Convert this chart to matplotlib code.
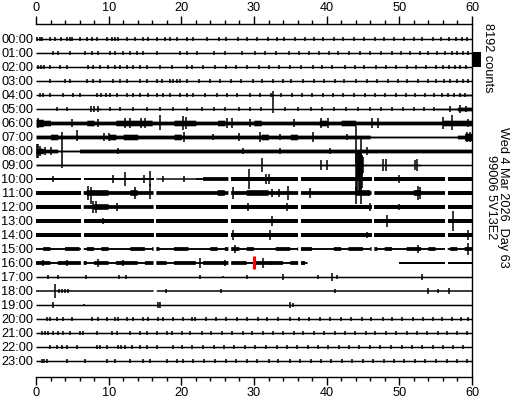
import numpy as np
import matplotlib
matplotlib.use("Agg")
import matplotlib.pyplot as plt
from matplotlib.ticker import MultipleLocator

plt.rcParams['font.family'] = ['Liberation Sans', 'DejaVu Sans']

# ---------------- data ----------------
hour_labels = [f"{h:02d}:00" for h in range(24)]
minute_ticks = [0, 10, 20, 30, 40, 50, 60]
scale_counts = 8192
row_counts = 7650          # trace offset between hours (counts)
level_counts = 512         # counts per envelope level

# background envelope, one character per minute (level of half amplitude)
background = [
    "0" * 60,                                                        # 00
    "0" * 60,                                                        # 01
    "1" + "0" * 59,                                                  # 02
    "0" * 60,                                                        # 03
    "0" * 58 + "11",                                                 # 04
    "000000001000000000000000000000000000000000000000000000011122",  # 05
    "432222232223333322233322232222322222222322332222222222223333",  # 06
    "223222222232332222232222222222232223222222222211111111111124",  # 07
    "322111222222222222222222222222222222222222222222222222222222",  # 08
    "111111111111111111111111111111111111111111111111111110000000",  # 09
    "000000000000000000000012222222222222222222222222222222222222",  # 10
    "222222233322232222222222232223332222222222223322222232222222",  # 11
    "222222223322222222222222222222222222222222222222222222222222",  # 12
    "222222222222222222222222222222222222222222222222222222222222",  # 13
    "222222222222222222222222222222222222222222222222222222222222",  # 14
    "121122121211122121122111212212111221221112122121211221211212",  # 15
    "221222212212221222122212222221222212211111111111111111111111",  # 16
    "0" * 60,                                                        # 17
    "0" * 60,                                                        # 18
    "0" * 60,                                                        # 19
    "0" * 60,                                                        # 20
    "0" * 60,                                                        # 21
    "0" * 60,                                                        # 22
    "0" * 60,                                                        # 23
]

# data gaps (hour, start minute, end minute)
gaps = [(h, m, m + 0.35) for h in range(10, 17) for m in (6.2, 16.2, 26.5, 36.1, 46.2, 56.3)]
gaps += [(16, 37.4, 50.0), (18, 16.2, 16.6)]

# spikes: (minute, up level, down level)
ticks00 = [0.2, 0.5, 0.8, 1.9, 2.6, 3.4, 4.3, 4.7, 5.0, 6.1, 7.0, 7.7, 8.4, 9.8, 10.5, 10.9, 11.3, 12.5,
           13.6, 14.7, 15.4, 16.6, 17.7, 18.4, 19.4, 20.8, 21.6, 23.5, 25.2, 26.1, 27.8, 29.0, 30.4, 31.9,
           33.2, 34.1, 35.6, 37.0, 38.3, 39.5, 41.0, 42.2, 43.8, 45.1, 46.7, 47.9, 49.3, 50.6, 52.0, 53.1,
           54.6, 55.8, 56.9, 57.8, 58.6, 59.3]
ticks01 = [2.3, 3.0, 4.7, 6.7, 7.7, 8.5, 10.2, 10.9, 12.0, 12.9, 13.9, 14.7, 16.7, 19.8, 20.8, 22.2, 24.5,
           26.0, 28.3, 30.1, 31.5, 33.0, 34.8, 36.2, 37.5, 39.0, 40.3, 41.6, 43.1, 44.6, 46.0, 47.5, 49.0,
           50.2, 51.5, 52.8, 54.0, 55.2, 56.3, 57.2, 58.0, 58.8, 59.5]
ticks02 = [0.3, 0.7, 1.1, 1.9, 3.3, 4.3, 7.2, 7.8, 8.8, 9.9, 10.9, 11.6, 12.5, 13.4, 14.3, 15.3, 17.1, 18.7,
           20.8, 21.5, 23.0, 24.6, 26.2, 27.5, 29.1, 30.7, 32.0, 33.4, 35.0, 36.5, 38.1, 39.4, 40.8, 42.5,
           43.9, 45.2, 46.8, 48.1, 49.6, 51.0, 52.3, 53.7, 55.0, 56.0, 56.8, 57.6, 58.4, 59.2]
ticks03 = [1.9, 4.0, 4.7, 7.0, 7.8, 8.8, 10.6, 11.6, 12.5, 14.3, 15.3, 16.7, 17.3, 18.4, 18.9, 19.4, 19.8,
           20.8, 22.4, 24.0, 25.3, 26.9, 28.2, 29.8, 31.1, 32.6, 34.0, 35.1, 36.7, 38.2, 39.6, 41.2, 42.4,
           44.0, 45.5, 46.9, 48.4, 49.8, 51.1, 52.5, 53.9, 55.1, 56.2, 57.0, 57.9, 58.7, 59.5]
ticks04 = [0.6, 1.0, 1.9, 3.7, 5.1, 6.1, 8.4, 9.0, 9.6, 10.2, 11.2, 12.5, 13.4, 14.3, 15.4, 16.7, 17.5,
           18.4, 19.8, 20.8, 21.6, 23.2, 24.9, 26.3, 27.6, 29.4, 30.8, 32.3, 33.7, 35.2, 36.6, 38.0, 39.5,
           40.9, 42.3, 43.8, 45.3, 46.6, 48.0, 49.5, 50.9, 52.2, 53.6, 54.8, 55.9, 56.7, 57.5, 58.3, 59.1]
ticks05 = [2.9, 4.3, 10.2, 11.6, 13.4, 15.3, 17.1, 18.9, 20.8, 22.8, 24.5, 26.0, 27.9, 29.5, 31.0, 34.3,
           36.0, 37.8, 39.4, 41.0, 42.7, 44.3, 46.0, 47.5, 49.0, 50.5, 52.0, 53.4, 54.8]
ticks20 = [1.5, 1.9, 2.9, 3.7, 4.95, 7.7, 8.5, 9.8, 10.9, 11.3, 12.5, 13.4, 14.7, 15.4, 16.8, 17.5, 18.9,
           20.2, 21.5, 21.9, 23.4, 24.8, 26.1, 27.7, 29.0, 30.6, 31.8, 33.3, 34.9, 36.2, 37.6, 39.1, 40.5,
           42.0, 43.3, 44.8, 46.1, 47.7, 49.0, 50.4, 51.9, 53.2, 54.6, 55.9, 57.3, 58.5, 59.4]
ticks21 = [0.8, 1.2, 1.7, 2.3, 3.0, 3.7, 4.7, 6.1, 6.5, 8.4, 10.5, 11.1, 12.9, 14.3, 15.3, 16.7, 18.0, 18.7,
           20.1, 21.2, 22.8, 24.1, 25.6, 27.0, 28.5, 29.7, 31.2, 32.6, 34.0, 35.5, 36.8, 38.3, 39.6, 41.1,
           42.5, 43.9, 45.4, 46.7, 48.2, 49.5, 51.0, 52.4, 53.8, 55.3, 56.6, 58.0, 59.3]
ticks22 = [1.9, 2.9, 3.6, 4.3, 5.6, 8.4, 8.8, 9.8, 11.3, 11.7, 12.2, 13.2, 14.3, 15.3, 16.7, 18.9, 20.1,
           21.5, 23.0, 24.5, 25.9, 27.3, 28.8, 30.2, 31.6, 33.1, 34.5, 35.9, 37.4, 38.8, 40.2, 41.7, 43.1,
           44.5, 46.0, 47.4, 48.8, 50.3, 51.7, 53.1, 54.6, 56.0, 57.4, 58.8]
ticks23 = [0.8, 1.1, 1.5, 4.3, 6.7, 9.8, 10.9, 12.9, 14.7, 15.7, 18.0, 19.4, 20.2, 21.6, 23.1, 24.6, 26.2,
           27.5, 29.1, 30.4, 32.0, 33.3, 34.9, 36.3, 37.8, 39.2, 40.6, 42.1, 43.5, 45.0, 46.4, 47.9, 49.3,
           50.7, 52.2, 53.6, 55.1, 56.5, 57.9, 59.3]

spikes = {
    0: [(m, 2, 2) for m in ticks00],
    1: [(m, 2, 2) for m in ticks01],
    2: [(m, 2, 2) for m in ticks02],
    3: [(m, 2, 2) for m in ticks03],
    4: [(m, 2, 2) for m in ticks04],
    5: [(m, 2, 2) for m in ticks05] + [(7.5, 3, 3), (8.0, 3, 3), (8.6, 3, 3), (32.6, 19, 4),
                                     (57.0, 3, 3), (58.3, 4, 4), (59.2, 3, 3)],
    6: [(0.3, 5, 5), (5.0, 4, 4), (8.5, 4, 4), (12.3, 5, 5), (13.0, 5, 5), (14.5, 5, 5), (15.0, 5, 5),
        (17.1, 8, 8), (20.2, 7, 7), (20.6, 6, 6), (26.3, 5, 5), (27.0, 5, 5), (29.5, 4, 4), (35.5, 4, 4),
        (39.2, 5, 5), (40.2, 5, 5), (46.3, 5, 5), (47.0, 5, 5), (56.0, 6, 6), (57.2, 9, 8), (59.5, 4, 4)],
    7: [(5.6, 7, 4), (9.3, 4, 4), (10.0, 4, 4), (20.3, 5, 5), (24.4, 3, 3), (28.0, 4, 4), (30.8, 5, 5),
        (33.6, 3, 3), (38.1, 5, 5), (42.8, 3, 3), (44.1, 12, 0), (59.3, 5, 5), (59.7, 5, 5)],
    8: [(0.1, 7, 7), (0.3, 7, 7), (0.5, 5, 5), (1.3, 4, 4), (2.0, 4, 4), (3.6, 20, 18), (11.3, 3, 3),
        (28.5, 3, 3), (33.6, 3, 3), (40.5, 3, 3), (44.1, 14, 14), (44.7, 14, 14), (45.5, 4, 4)],
    9: [(31.1, 7, 7), (39.2, 5, 5), (40.0, 5, 5), (44.1, 16, 28), (44.2, 13, 13), (44.3, 14, 14),
        (44.4, 14, 14), (44.5, 13, 13), (44.6, 13, 13), (44.7, 14, 26), (44.8, 11, 11), (44.9, 10, 10),
        (45.0, 9, 9), (47.7, 6, 6), (48.2, 6, 6), (52.2, 5, 5), (52.4, 6, 6)],
    10: [(2.3, 3, 3), (10.6, 4, 4), (12.2, 7, 7), (14.8, 4, 4), (15.7, 8, 8), (17.5, 3, 3), (20.3, 3, 3),
         (29.3, 11, 11), (31.6, 5, 5), (32.1, 5, 5), (44.2, 12, 12), (44.4, 13, 13), (44.6, 12, 12),
         (44.8, 10, 10), (50.0, 4, 4)],
    11: [(7.2, 7, 7), (7.6, 6, 12), (13.6, 6, 6), (15.7, 10, 6), (27.1, 6, 6), (32.5, 4, 4), (33.5, 4, 4),
         (34.7, 7, 7), (37.7, 5, 5), (44.1, 6, 12), (44.7, 6, 12), (46.2, 8, 8), (52.5, 7, 7), (52.9, 6, 6)],
    12: [(7.8, 6, 6), (8.3, 6, 6), (11.1, 4, 4), (29.2, 4, 4), (34.5, 4, 4), (46.0, 4, 4), (50.0, 3, 3)],
    13: [(9.2, 3, 3), (32.5, 5, 5), (48.3, 6, 6), (57.4, 11, 11)],
    14: [(27.1, 5, 5), (32.2, 5, 5), (45.5, 3, 3), (59.5, 5, 5)],
    15: [(27.4, 4, 4), (52.5, 4, 4), (59.5, 6, 6)],
    16: [(1.0, 3, 3), (4.3, 3, 3), (8.5, 4, 4), (12.0, 3, 3), (22.6, 5, 5), (26.0, 3, 3), (31.2, 5, 5),
         (32.3, 2, 2), (36.9, 2, 2)],
    17: [(1.7, 2, 2), (3.0, 2, 2), (6.9, 2, 2), (11.4, 2, 2), (12.4, 2, 2), (22.6, 2, 2), (25.8, 1, 1),
         (29.0, 2, 2), (34.0, 3, 3), (38.8, 2, 2), (40.7, 4, 4), (41.4, 2, 2), (53.1, 3, 3)],
    18: [(2.6, 8, 7), (3.2, 2, 2), (3.6, 2, 2), (4.0, 2, 2), (4.4, 2, 2), (17.9, 2, 2), (25.4, 2, 2),
         (41.1, 2, 2), (54.0, 3, 3), (55.3, 2, 2), (56.8, 3, 3)],
    19: [(2.3, 3, 3), (6.6, 1, 1), (16.8, 3, 3), (17.0, 3, 3), (35.0, 3, 3), (35.3, 2, 2)],
    20: [(m, 2, 2) for m in ticks20],
    21: [(m, 2, 2) for m in ticks21],
    22: [(m, 2, 2) for m in ticks22],
    23: [(m, 2, 2) for m in ticks23],
}

marker = (16, 30.0)  # red marker (hour, minute)

# ---------------- drawing ----------------
fig = plt.figure(figsize=(5.12, 4.0), dpi=100)
ax = fig.add_axes([36 / 512, 23 / 400, 436 / 512, 353 / 400])

line_half = 0.8 * level_counts
xs = np.arange(0, 60.0001, 0.02)
for h in range(24):
    y0 = -h * row_counts
    bg = background[h].ljust(60, background[h][-1])[:60]
    lev = np.array([int(bg[min(int(x), 59)]) for x in xs])
    amp = np.maximum(lev * level_counts, line_half)
    ok = np.ones_like(xs, dtype=bool)
    for (gh, a, b) in gaps:
        if gh == h:
            ok &= ~((xs >= a) & (xs <= b))
    ax.fill_between(xs, y0 - amp, y0 + amp, where=ok, color='black', lw=0, interpolate=False)
    sp = [s for s in spikes.get(h, []) if not any(gh == h and a <= s[0] <= b for (gh, a, b) in gaps)]
    if sp:
        ax.vlines([s[0] for s in sp], [y0 - s[2] * level_counts for s in sp],
                  [y0 + s[1] * level_counts for s in sp], color='black', lw=1.1)

mh, mm = marker
ax.vlines([mm], [-mh * row_counts - 0.45 * row_counts], [-mh * row_counts + 0.5 * row_counts],
          color='red', lw=2.2, zorder=5)

fs = 9.2
ax.set_xlim(0, 60)
ax.set_ylim(-24.143 * row_counts, 1.071 * row_counts)
ax.set_xticks(minute_ticks)
ax.xaxis.set_minor_locator(MultipleLocator(2))
ax.tick_params(axis='x', which='both', top=True, bottom=True, labeltop=True, labelbottom=True,
               direction='out', width=1, labelsize=fs, pad=1.5)
ax.tick_params(axis='x', which='major', length=6)
ax.tick_params(axis='x', which='minor', length=3)
ax.set_yticks([-h * row_counts for h in range(24)])
ax.set_yticklabels(hour_labels)
ax.tick_params(axis='y', length=0, pad=2, labelsize=fs)
ax.spines['left'].set_visible(False)
for s in ('top', 'bottom', 'right'):
    ax.spines[s].set_linewidth(1.0)

# scale bar (8192 counts)
ax.add_patch(plt.Rectangle((60.14, -2.0 * row_counts), 1.1, scale_counts, color='black',
                           clip_on=False, lw=0))

fig.text(488 / 512, 1 - 58 / 400, f"{scale_counts} counts", rotation=-90, ha='center', va='center',
         fontsize=fs)
fig.text(497 / 512, 1 - 197 / 400, "Wed 4 Mar 2026  Day 63\n99006 5V13E2", rotation=-90,
         ha='center', va='center', multialignment='center', fontsize=fs, linespacing=1.05)

fig.savefig("out.png", dpi=100)
